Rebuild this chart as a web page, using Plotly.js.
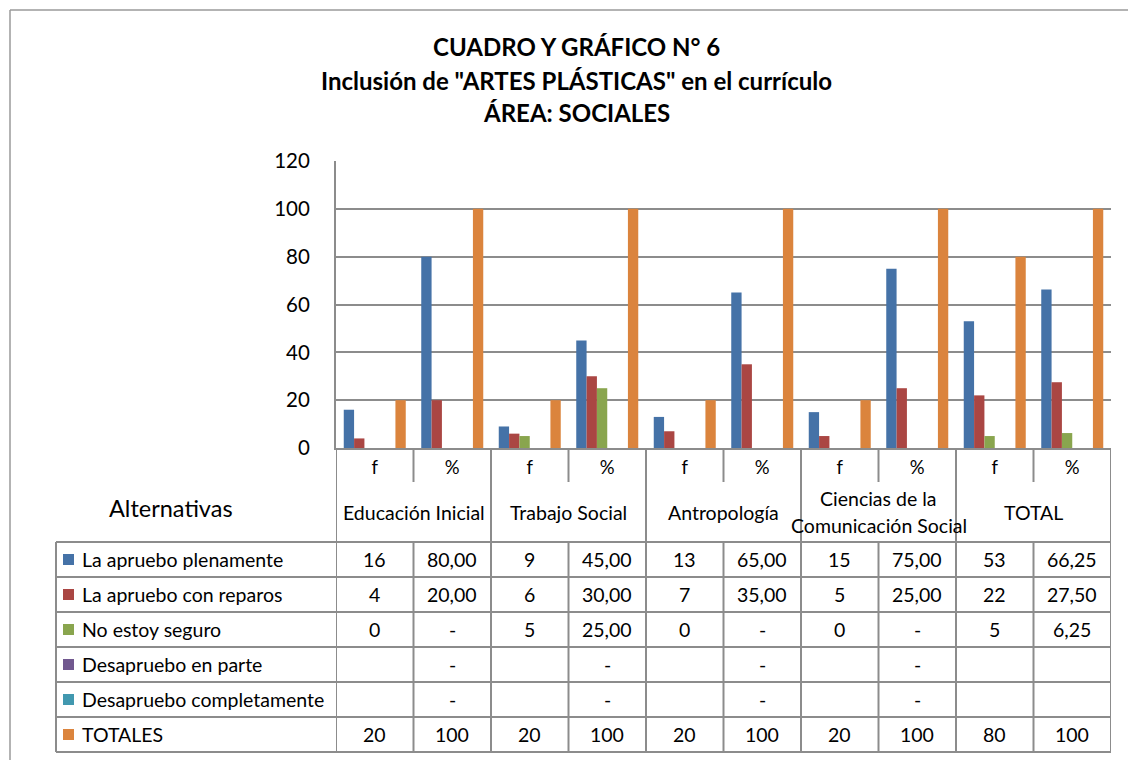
<!DOCTYPE html>
<html>
<head>
<meta charset="utf-8">
<script src="https://cdn.plot.ly/plotly-3.0.1.min.js"></script>
<style>
html,body{margin:0;padding:0;background:#fff;}
#chart{width:1128px;height:760px;}
</style>
</head>
<body>
<div id="chart"></div>
<script>
// ---------- data ----------
const titleLines = ['CUADRO Y GRÁFICO N° 6', 'Inclusión de "ARTES PLÁSTICAS" en el currículo', 'ÁREA: SOCIALES'];
const columns = ['f', '%', 'f', '%', 'f', '%', 'f', '%', 'f', '%'];
const groups = ['Educación Inicial', 'Trabajo Social', 'Antropología', 'Ciencias de la\nComunicación Social', 'TOTAL'];
const seriesNames = ['La apruebo plenamente', 'La apruebo con reparos', 'No estoy seguro', 'Desapruebo en parte', 'Desapruebo completamente', 'TOTALES'];
const plenamente = [16, 80, 9, 45, 13, 65, 15, 75, 53, 66.25];
const conReparos = [4, 20, 6, 30, 7, 35, 5, 25, 22, 27.5];
const noSeguro = [0, '-', 5, 25, 0, '-', 0, '-', 5, 6.25];
const enParte = ['', '-', '', '-', '', '-', '', '-', '', ''];
const completamente = ['', '-', '', '-', '', '-', '', '-', '', ''];
const totales = [20, 100, 20, 100, 20, 100, 20, 100, 80, 100];
const yTicks = [0, 20, 40, 60, 80, 100, 120];
const sideLabel = 'Alternativas';

// ---------- styles ----------
const colors = ['#4572A7', '#AA4643', '#89A54E', '#71588F', '#4198AF', '#DB843D'];
const FONT = 'Lato, "Open Sans", sans-serif';
const LINE = '#8c8c8c';
const TBL = 19.5;

// geometry helpers (pixel -> paper)
const L = 336, R = 1111, T = 161, B = 448;
const px = x => (x - L) / (R - L);
const py = y => (B - y) / (B - T);

const allSeries = [plenamente, conReparos, noSeguro, enParte, completamente, totales];
const xIdx = columns.map((_, i) => i);

const traces = allSeries.map((vals, s) => ({
  type: 'bar',
  name: seriesNames[s],
  x: xIdx,
  y: vals.map(v => (typeof v === 'number' ? v : null)),
  marker: {color: colors[s], line: {width: 0}},
  showlegend: false,
  hoverinfo: 'name+y'
}));

function fmt(v, col, isTotalRow) {
  if (typeof v !== 'number') return v;
  if (col % 2 === 1 && !isTotalRow) return v.toFixed(2).replace('.', ',');
  return String(v);
}

const annotations = [];
const shapes = [];

// title
const titleY = [47, 80, 112];
titleLines.forEach((t, i) => annotations.push({
  text: '<b>' + t + '</b>', xref: 'paper', yref: 'paper', x: px(576), y: py(titleY[i]),
  xanchor: 'center', yanchor: 'middle', showarrow: false,
  font: {family: FONT, size: 24, color: '#000'}
}));

// outer frame
shapes.push({type: 'line', xref: 'paper', yref: 'paper', x0: px(10), x1: px(1128), y0: py(10), y1: py(10), line: {color: '#9a9a9a', width: 1.5}});
shapes.push({type: 'line', xref: 'paper', yref: 'paper', x0: px(10), x1: px(10), y0: py(10), y1: py(760), line: {color: '#9a9a9a', width: 1.5}});

// side label
annotations.push({text: sideLabel, xref: 'paper', yref: 'paper', x: px(171), y: py(508),
  xanchor: 'center', yanchor: 'middle', showarrow: false, font: {family: FONT, size: 23.5, color: '#000'}});

// group labels
groups.forEach((g, gi) => {
  const lines = g.split('\n');
  const centers = lines.length === 1 ? [512] : [498, 525];
  lines.forEach((ln, li) => annotations.push({
    text: ln, xref: 'x', yref: 'paper', x: gi * 2 + 0.5, y: py(centers[li]),
    xanchor: 'center', yanchor: 'middle', showarrow: false,
    font: {family: FONT, size: TBL, color: '#000'}
  }));
});

// table rows
const rowTop = [542, 577, 612, 647, 682, 717, 752];
allSeries.forEach((vals, r) => {
  const yc = (rowTop[r] + rowTop[r + 1]) / 2;
  // legend key
  shapes.push({type: 'rect', xref: 'paper', yref: 'paper', x0: px(63), x1: px(74), y0: py(yc - 5.5), y1: py(yc + 5.5),
    fillcolor: colors[r], line: {width: 0}});
  annotations.push({text: seriesNames[r], xref: 'paper', yref: 'paper', x: px(80), y: py(yc),
    xanchor: 'left', yanchor: 'middle', showarrow: false, font: {family: FONT, size: TBL, color: '#000'}});
  vals.forEach((v, c) => {
    const t = fmt(v, c, r === allSeries.length - 1);
    if (t === '') return;
    annotations.push({text: t, xref: 'x', yref: 'paper', x: c, y: py(yc),
      xanchor: 'center', yanchor: 'middle', showarrow: false, font: {family: FONT, size: TBL, color: '#000'}});
  });
});

// table horizontal lines
rowTop.forEach(y => shapes.push({type: 'line', xref: 'paper', yref: 'paper', x0: px(56), x1: 1, y0: py(y), y1: py(y),
  line: {color: LINE, width: 2}}));
// left border
shapes.push({type: 'line', xref: 'paper', yref: 'paper', x0: px(56), x1: px(56), y0: py(542), y1: py(752), line: {color: LINE, width: 2}});
// vertical column lines
for (let k = 0; k <= columns.length; k++) {
  const xb = k - 0.5;
  if (k % 2 === 0) {
    shapes.push({type: 'line', xref: 'x', yref: 'paper', x0: xb, x1: xb, y0: py(448), y1: py(752), line: {color: LINE, width: 2}});
  } else {
    shapes.push({type: 'line', xref: 'x', yref: 'paper', x0: xb, x1: xb, y0: py(448), y1: py(482), line: {color: LINE, width: 2}});
    shapes.push({type: 'line', xref: 'x', yref: 'paper', x0: xb, x1: xb, y0: py(542), y1: py(752), line: {color: LINE, width: 2}});
  }
}

const layout = {
  width: 1128, height: 760, autosize: false,
  paper_bgcolor: '#fff', plot_bgcolor: '#fff',
  margin: {l: L, r: 1128 - R, t: T, b: 760 - B, pad: 0},
  barmode: 'group', bargap: 0.2, bargroupgap: 0,
  font: {family: FONT, color: '#000'},
  xaxis: {
    range: [-0.5, columns.length - 0.5], tickvals: xIdx, ticktext: columns,
    showgrid: false, zeroline: false, showline: true, linecolor: LINE, linewidth: 2,
    ticks: '', tickfont: {family: FONT, size: 18.5, color: '#000'}, ticklabelstandoff: 2,
    fixedrange: true
  },
  yaxis: {
    range: [0, 120], tickvals: yTicks, showgrid: true, gridcolor: LINE, gridwidth: 2,
    zeroline: false, showline: true, linecolor: LINE, linewidth: 2, ticks: '',
    tickfont: {family: FONT, size: 20.5, color: '#000'}, ticklabelstandoff: 20,
    fixedrange: true
  },
  annotations: annotations,
  shapes: shapes,
  showlegend: false
};

Plotly.newPlot('chart', traces, layout, {displayModeBar: false, staticPlot: true});
</script>
</body>
</html>
